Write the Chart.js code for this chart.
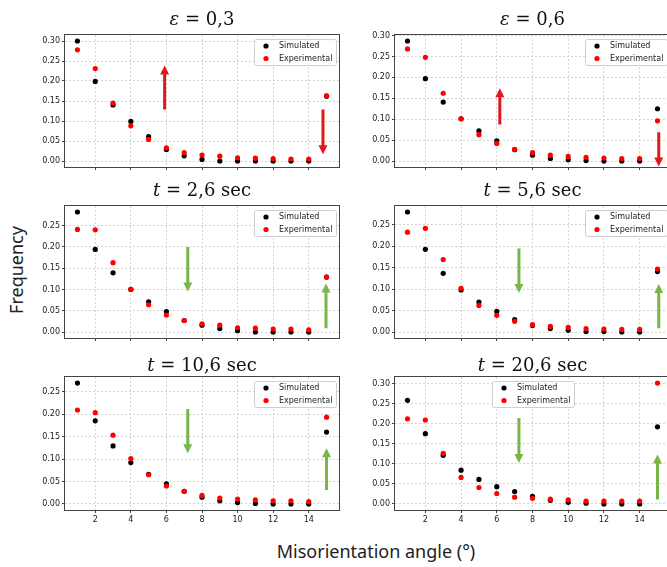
<!DOCTYPE html>
<html>
<head>
<meta charset="utf-8">
<script src="https://cdn.jsdelivr.net/npm/chart.js@4.4.0/dist/chart.umd.min.js"></script>
<style>
html, body { margin: 0; padding: 0; background: #fff; }
body { width: 667px; height: 567px; overflow: hidden; position: relative; }
canvas { position: absolute; }
.lbl { position: absolute; font-family: "Noto Sans"; color: #222; font-size: 18px; white-space: nowrap; }
#ylab { left: 16px; top: 270px; transform: translate(-50%, -50%) rotate(-90deg); }
#xlab { left: 376px; top: 551px; transform: translate(-50%, -50%); }
</style>
</head>
<body>
<div class="lbl" id="ylab">Frequency</div>
<div class="lbl" id="xlab">Misorientation angle (°)</div>
<script>
// misorientation angle bins (degrees)
const angles = [1, 2, 3, 4, 5, 6, 7, 8, 9, 10, 11, 12, 13, 14, 15];
const xTicks = [2, 4, 6, 8, 10, 12, 14];
const yTicks30 = [0, 0.05, 0.10, 0.15, 0.20, 0.25, 0.30];
const yTicks25 = [0, 0.05, 0.10, 0.15, 0.20, 0.25];
const seriesNames = ["Simulated", "Experimental"];

// frequencies
const simE03 = [0.300, 0.199, 0.140, 0.099, 0.061, 0.029, 0.013, 0.004, 0.000, 0.000, 0.000, 0.000, 0.000, 0.000, 0.162];
const expE03 = [0.278, 0.231, 0.145, 0.088, 0.054, 0.033, 0.021, 0.015, 0.012, 0.008, 0.007, 0.006, 0.005, 0.005, 0.163];
const simE06 = [0.287, 0.197, 0.141, 0.101, 0.072, 0.048, 0.027, 0.014, 0.006, 0.003, 0.001, 0.000, 0.000, 0.000, 0.125];
const expE06 = [0.268, 0.248, 0.162, 0.101, 0.063, 0.042, 0.028, 0.020, 0.014, 0.011, 0.009, 0.007, 0.006, 0.006, 0.096];
const simT26 = [0.282, 0.194, 0.139, 0.100, 0.071, 0.048, 0.027, 0.016, 0.008, 0.003, 0.000, 0.000, 0.000, 0.000, 0.129];
const expT26 = [0.241, 0.240, 0.163, 0.100, 0.064, 0.040, 0.027, 0.019, 0.016, 0.010, 0.009, 0.007, 0.007, 0.005, 0.129];
const simT56 = [0.280, 0.193, 0.137, 0.098, 0.070, 0.048, 0.029, 0.015, 0.008, 0.004, 0.001, 0.001, 0.000, 0.000, 0.141];
const expT56 = [0.233, 0.242, 0.169, 0.102, 0.062, 0.039, 0.025, 0.017, 0.013, 0.011, 0.008, 0.007, 0.006, 0.006, 0.147];
const simT106 = [0.269, 0.185, 0.129, 0.092, 0.066, 0.045, 0.028, 0.015, 0.007, 0.003, 0.001, 0.000, 0.000, 0.000, 0.160];
const expT106 = [0.209, 0.203, 0.153, 0.101, 0.065, 0.040, 0.028, 0.019, 0.013, 0.011, 0.009, 0.007, 0.007, 0.005, 0.193];
const simT206 = [0.258, 0.175, 0.121, 0.084, 0.061, 0.043, 0.031, 0.019, 0.009, 0.004, 0.002, 0.000, 0.000, 0.000, 0.192];
const expT206 = [0.212, 0.209, 0.126, 0.066, 0.041, 0.026, 0.017, 0.014, 0.012, 0.010, 0.007, 0.007, 0.007, 0.007, 0.301];

// panel titles: [italic variable, rest]
const titles = [
  ["ε", " = 0,3"], ["ε", " = 0,6"],
  ["t", " = 2,6 sec"], ["t", " = 5,6 sec"],
  ["t", " = 10,6 sec"], ["t", " = 20,6 sec"]
];

// annotation arrows: [angle, from, to] in data units
const arrowsE03 = [[5.9, 0.129, 0.239], [14.8, 0.129, 0.017]];
const arrowsE06 = [[6.17, 0.087, 0.174], [15.07, 0.069, -0.013]];
const arrowsT26 = [[7.2, 0.200, 0.095], [14.97, 0.009, 0.114]];
const arrowsT56 = [[7.24, 0.195, 0.091], [15.07, 0.009, 0.112]];
const arrowsT106 = [[7.2, 0.211, 0.113], [15.0, 0.031, 0.124]];
const arrowsT206 = [[7.24, 0.214, 0.102], [15.0, 0.011, 0.123]];

const RED_ARROW = "#e3161d";
const GREEN_ARROW = "#79b548";

// plot-area boxes in page pixels
const panels = [
  { L: 65, T: 35, R: 339, B: 167, sim: simE03, exp: expE03, yTicks: yTicks30, title: titles[0], arrows: arrowsE03, arrowColor: RED_ARROW, legend: "right", xLabels: false, titleGap: 10 },
  { L: 395, T: 35, R: 670, B: 167, sim: simE06, exp: expE06, yTicks: yTicks30, title: titles[1], arrows: arrowsE06, arrowColor: RED_ARROW, legend: "right", xLabels: false, titleGap: 10 },
  { L: 65, T: 206, R: 339, B: 338, sim: simT26, exp: expT26, yTicks: yTicks25, title: titles[2], arrows: arrowsT26, arrowColor: GREEN_ARROW, legend: "right", xLabels: false, titleGap: 10 },
  { L: 395, T: 206, R: 670, B: 338, sim: simT56, exp: expT56, yTicks: yTicks25, title: titles[3], arrows: arrowsT56, arrowColor: GREEN_ARROW, legend: "right", xLabels: false, titleGap: 10 },
  { L: 65, T: 377, R: 339, B: 510, sim: simT106, exp: expT106, yTicks: yTicks25, title: titles[4], arrows: arrowsT106, arrowColor: GREEN_ARROW, legend: "right", xLabels: true, titleGap: 6 },
  { L: 395, T: 377, R: 670, B: 510, sim: simT206, exp: expT206, yTicks: yTicks30, title: titles[5], arrows: arrowsT206, arrowColor: GREEN_ARROW, legend: "center", xLabels: true, titleGap: 6 }
];

Chart.defaults.font.family = "DejaVu Sans";

function drawArrow(ctx, x, y0, y1, color) {
  const dir = y1 < y0 ? -1 : 1;
  const head = 9, hw = 4.5, sw = 1.5;
  ctx.fillStyle = color;
  ctx.beginPath();
  ctx.moveTo(x - sw, y0);
  ctx.lineTo(x - sw, y1 - dir * head);
  ctx.lineTo(x - hw, y1 - dir * head);
  ctx.lineTo(x, y1);
  ctx.lineTo(x + hw, y1 - dir * head);
  ctx.lineTo(x + sw, y1 - dir * head);
  ctx.lineTo(x + sw, y0);
  ctx.closePath();
  ctx.fill();
}

function drawLegend(chart, where) {
  const ctx = chart.ctx, a = chart.chartArea;
  const ds = chart.data.datasets.slice().sort((p, q) => p.legendIndex - q.legendIndex);
  ctx.font = '8px "DejaVu Sans"';
  const tw = Math.max(...ds.map(d => ctx.measureText(d.label).width));
  const w = Math.round(tw + 29), h = 26;
  const x = where === "center" ? Math.round((a.left + a.right) / 2 - w / 2) : Math.round(a.right - 3 - w);
  const y = Math.round(a.top + 4);
  ctx.save();
  ctx.fillStyle = "rgba(255,255,255,0.85)";
  ctx.strokeStyle = "#cfcfcf";
  ctx.lineWidth = 1;
  ctx.beginPath();
  ctx.roundRect(x + 0.5, y + 0.5, w, h, 2);
  ctx.fill();
  ctx.stroke();
  ds.forEach((d, i) => {
    const cy = y + 7 + i * 12.5;
    ctx.fillStyle = d.backgroundColor;
    ctx.beginPath();
    ctx.arc(x + 12, cy, 2.6, 0, Math.PI * 2);
    ctx.fill();
    ctx.fillStyle = "#222";
    ctx.textBaseline = "middle";
    ctx.textAlign = "left";
    ctx.fillText(d.label, x + 25, cy);
  });
  ctx.restore();
}

function drawTitle(chart, parts, gap) {
  const ctx = chart.ctx, a = chart.chartArea;
  const fonts = ['italic 18px "DejaVu Serif"', '18px "DejaVu Serif"'];
  const widths = parts.map((t, i) => { ctx.font = fonts[i]; return ctx.measureText(t).width; });
  let x = (a.left + a.right) / 2 - (widths[0] + widths[1]) / 2;
  ctx.save();
  ctx.fillStyle = "#111";
  ctx.textBaseline = "alphabetic";
  ctx.textAlign = "left";
  parts.forEach((t, i) => {
    ctx.font = fonts[i];
    ctx.fillText(t, x, a.top - gap);
    x += widths[i];
  });
  ctx.restore();
}

const decor = {
  id: "decor",
  afterDatasetsDraw(chart) {
    const p = chart.options.plugins.decor;
    const ctx = chart.ctx, a = chart.chartArea;
    const xs = chart.scales.x, ys = chart.scales.y;
    p.arrows.forEach(ar => {
      drawArrow(ctx, xs.getPixelForValue(ar[0]), ys.getPixelForValue(ar[1]), ys.getPixelForValue(ar[2]), p.arrowColor);
    });
    ctx.save();
    ctx.strokeStyle = "#444";
    ctx.lineWidth = 1;
    ctx.strokeRect(Math.round(a.left) - 0.5, Math.round(a.top) - 0.5, Math.round(a.width) + 1, Math.round(a.height) + 1);
    ctx.restore();
    drawLegend(chart, p.legend);
    drawTitle(chart, p.title, p.titleGap);
  }
};

panels.forEach(p => {
  const padTop = 40, axW = 45, axH = 22, padR = 4;
  const c = document.createElement("canvas");
  c.width = p.R - p.L + axW + padR;
  c.height = p.B - p.T + padTop + axH;
  c.style.left = (p.L - axW) + "px";
  c.style.top = (p.T - padTop) + "px";
  c.style.width = c.width + "px";
  c.style.height = c.height + "px";
  document.body.appendChild(c);

  const all = p.sim.concat(p.exp);
  const lo = Math.min(...all), hi = Math.max(...all);
  const m = (hi - lo) * 0.05;

  new Chart(c, {
    type: "scatter",
    data: {
      datasets: [
        { label: seriesNames[1], legendIndex: 1, order: 0, data: angles.map((a, i) => ({ x: a, y: p.exp[i] })), backgroundColor: "#ff0000" },
        { label: seriesNames[0], legendIndex: 0, order: 1, data: angles.map((a, i) => ({ x: a, y: p.sim[i] })), backgroundColor: "#000000" }
      ]
    },
    options: {
      responsive: false,
      animation: false,
      events: [],
      layout: { padding: { top: padTop, right: padR, left: 0, bottom: 0 } },
      elements: { point: { radius: 2.6, borderWidth: 0 } },
      plugins: {
        legend: { display: false },
        tooltip: { enabled: false },
        decor: { arrows: p.arrows, arrowColor: p.arrowColor, legend: p.legend, title: p.title, titleGap: p.titleGap }
      },
      scales: {
        x: {
          type: "linear",
          min: 0.3,
          max: 15.7,
          afterBuildTicks: s => { s.ticks = xTicks.map(v => ({ value: v })); },
          afterFit: s => { s.height = axH; },
          grid: { color: "#d4d4d4", tickColor: "#444", tickLength: 3, drawTicks: true },
          border: { display: false, dash: [2, 2] },
          ticks: { display: p.xLabels, color: "#222", font: { size: 8 }, padding: 2, maxRotation: 0, autoSkip: false, callback: v => v }
        },
        y: {
          type: "linear",
          min: lo - m,
          max: hi + m,
          afterBuildTicks: s => { s.ticks = p.yTicks.map(v => ({ value: v })); },
          afterFit: s => { s.width = axW; },
          grid: { color: "#d4d4d4", tickColor: "#444", tickLength: 3, drawTicks: true },
          border: { display: false, dash: [2, 2] },
          ticks: { color: "#222", font: { size: 8 }, padding: 2, autoSkip: false, callback: v => v.toFixed(2) }
        }
      }
    },
    plugins: [decor]
  });
});
</script>
</body>
</html>
